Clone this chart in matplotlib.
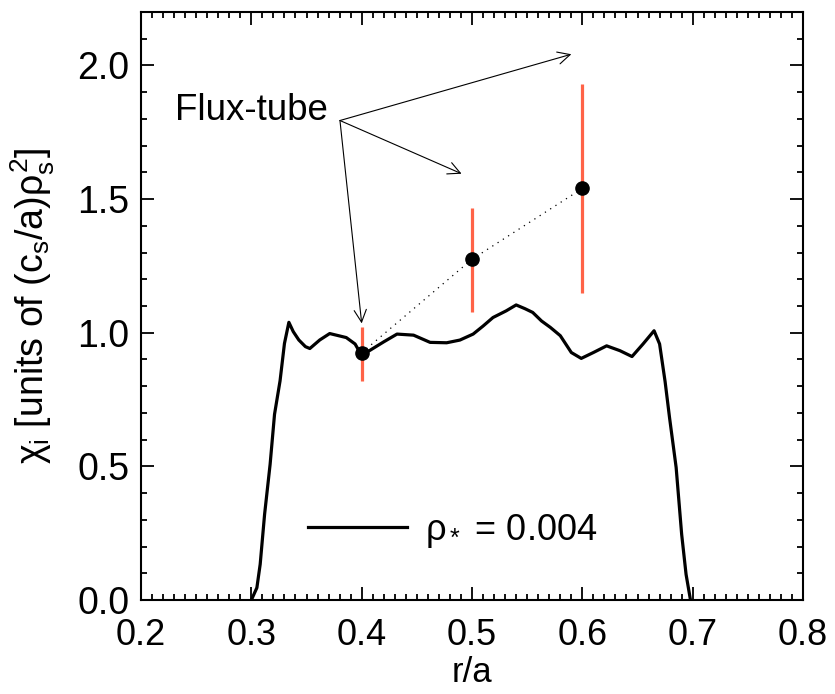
import matplotlib
matplotlib.use('Agg')
import matplotlib.pyplot as plt
from matplotlib.ticker import MultipleLocator, FormatStrFormatter

plt.rcParams['font.family'] = ['Liberation Sans', 'DejaVu Sans']
plt.rcParams['mathtext.fontset'] = 'custom'
plt.rcParams['mathtext.rm'] = 'Liberation Sans'
plt.rcParams['mathtext.it'] = 'Liberation Sans'
plt.rcParams['mathtext.bf'] = 'Liberation Sans'
plt.rcParams['font.size'] = 26

# global profile, rho* = 0.004
r = [0.300, 0.305, 0.308, 0.312, 0.317, 0.321, 0.326, 0.330, 0.334, 0.338,
     0.343, 0.349, 0.353, 0.362, 0.371, 0.378, 0.386, 0.394, 0.399, 0.407,
     0.420, 0.432, 0.447, 0.462, 0.477, 0.489, 0.501, 0.510, 0.519, 0.531,
     0.540, 0.548, 0.555, 0.563, 0.571, 0.580, 0.590, 0.599, 0.610, 0.622,
     0.634, 0.645, 0.655, 0.665, 0.670, 0.675, 0.679, 0.685, 0.690, 0.694,
     0.698]
chi = [0.0, 0.046, 0.134, 0.321, 0.508, 0.695, 0.82, 0.96, 1.039, 1.004,
       0.973, 0.948, 0.941, 0.973, 0.997, 0.99, 0.982, 0.958, 0.922, 0.933,
       0.966, 0.995, 0.991, 0.964, 0.9625, 0.9726, 0.995, 1.025, 1.057, 1.082,
       1.104, 1.09, 1.076, 1.044, 1.020, 0.989, 0.926, 0.904, 0.926, 0.951,
       0.933, 0.911, 0.958, 1.0075, 0.958, 0.817, 0.683, 0.496, 0.246, 0.096,
       0.0]

# flux-tube results
ft_r = [0.4, 0.5, 0.6]
ft_chi = [0.925, 1.275, 1.54]
ft_lo = [0.82, 1.078, 1.149]
ft_hi = [1.02, 1.468, 1.93]

# annotation: label position and arrow tips
label_xy = (0.3803, 1.794)
arrow_tips = [(0.590, 2.042), (0.4905, 1.595), (0.400, 1.035)]

fig = plt.figure(figsize=(8.35, 6.94), dpi=100)
ax = fig.add_axes([0.1689, 0.1354, 0.7928, 0.8473])

ax.plot(r, chi, color='black', lw=2.3, label=r'$\rho_*$ = 0.004')

ax.vlines(ft_r, ft_lo, ft_hi, color='#ff6347', lw=2.3, zorder=3)
ax.plot(ft_r, ft_chi, color='black', lw=0.9, linestyle=(0, (1, 4)), zorder=2)
ax.plot(ft_r, ft_chi, linestyle='', marker='o', ms=9.5, color='black', zorder=4)

ax.text(0.3694, 1.832, 'Flux-tube', ha='right', va='center', fontsize=26.5)
for tip in arrow_tips:
    ax.annotate('', xy=tip, xytext=label_xy,
                arrowprops=dict(arrowstyle='->', lw=0.8, color='black',
                                mutation_scale=22, shrinkA=0, shrinkB=0))

ax.legend(loc='lower left', bbox_to_anchor=(0.203, 0.03), frameon=False,
          handlelength=2.74, handletextpad=0.5, fontsize=26)

ax.set_xlim(0.2, 0.8)
ax.set_ylim(0.0, 2.2)
ax.xaxis.set_major_locator(MultipleLocator(0.1))
ax.xaxis.set_minor_locator(MultipleLocator(0.01))
ax.yaxis.set_major_locator(MultipleLocator(0.5))
ax.yaxis.set_minor_locator(MultipleLocator(0.1))
ax.xaxis.set_major_formatter(FormatStrFormatter('%.1f'))
ax.yaxis.set_major_formatter(FormatStrFormatter('%.1f'))
ax.tick_params(which='both', direction='in', top=True, right=True, width=1.3)
ax.tick_params(which='major', length=9.5)
ax.tick_params(which='minor', length=4.5)
ax.tick_params(axis='x', which='major', pad=13, labelsize=26)
ax.tick_params(axis='y', which='major', pad=8.5, labelsize=27)
for s in ax.spines.values():
    s.set_linewidth(1.5)

ax.set_xlabel('r/a', fontsize=25)
ax.xaxis.set_label_coords(0.5, -0.096)
ax.set_ylabel(r'$\chi_{\rm i}$ [units of (c$_{\rm s}$/a)$\rho_{\rm s}^{2}$]',
              fontsize=27)
ax.yaxis.set_label_coords(-0.127, 0.5)

fig.savefig('out.png', dpi=100)
